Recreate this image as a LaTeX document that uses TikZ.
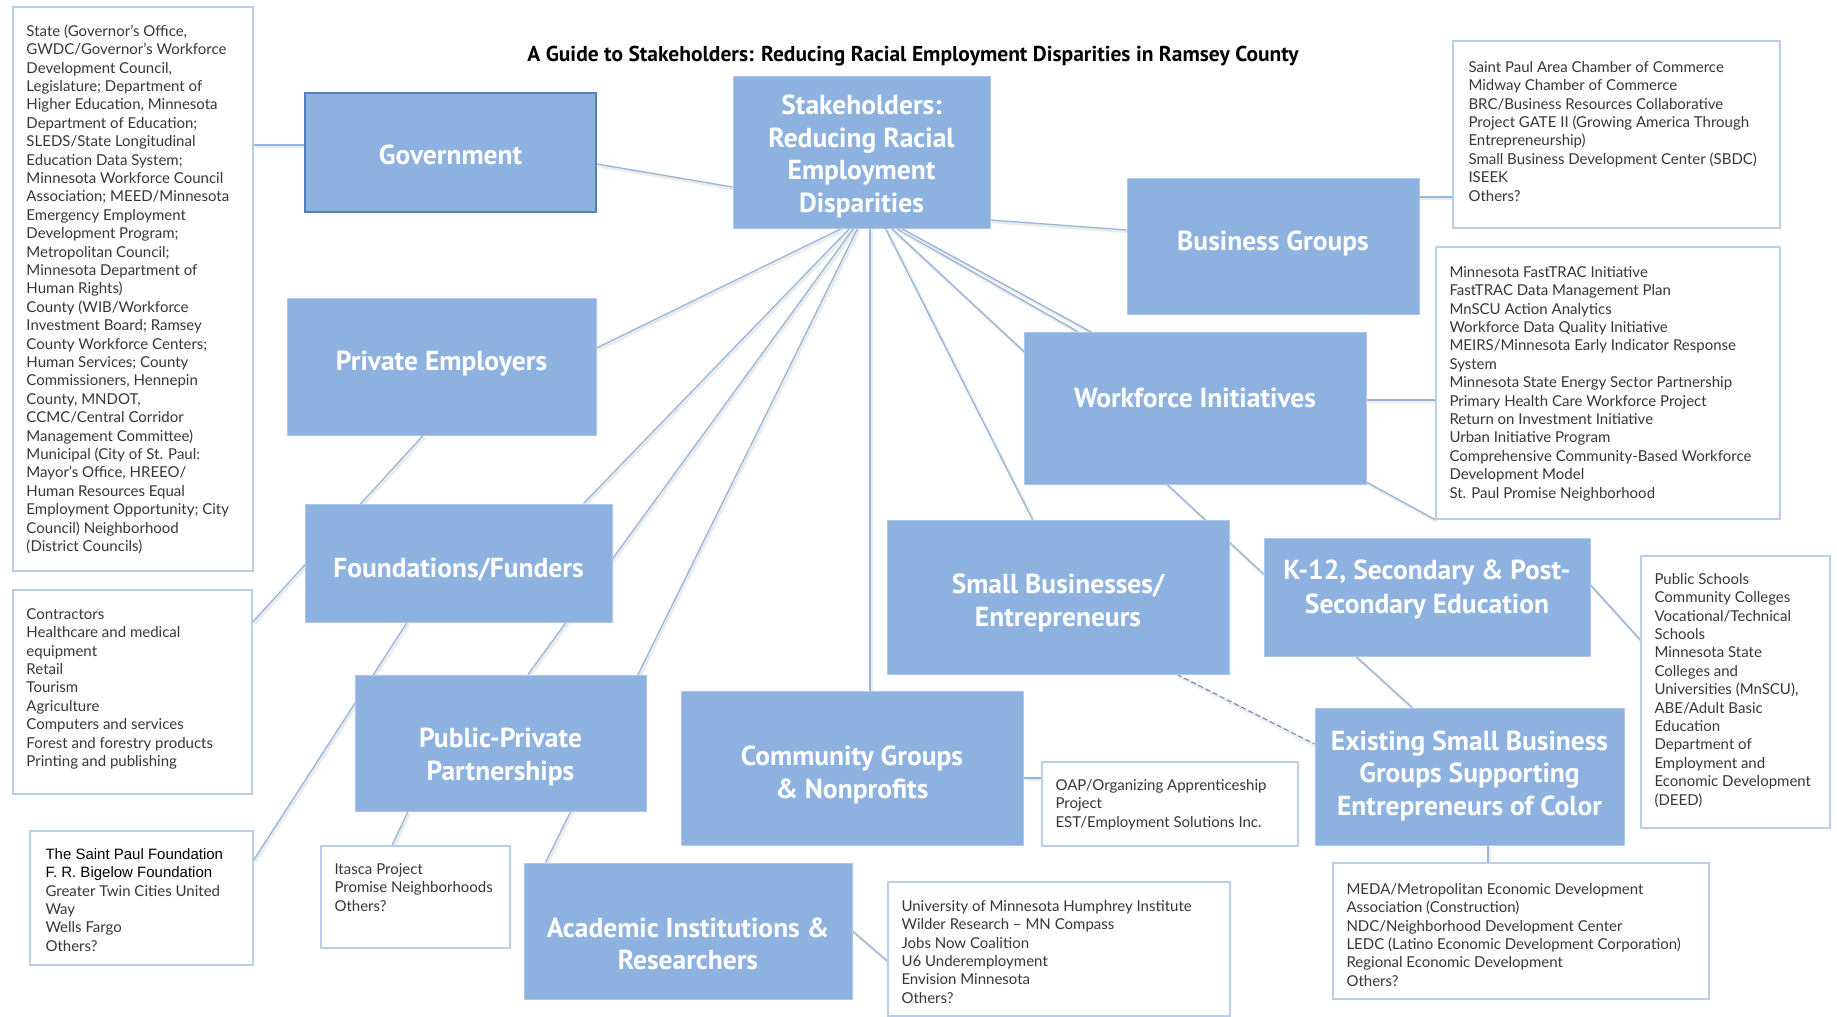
\documentclass[tikz,border=0pt]{standalone}
\usepackage{fontspec}
\setmainfont{Lato}
\newfontfamily\boxfont{PT Sans}
\newfontfamily\titlefont{PT Sans}
\newfontfamily\arialfont{Liberation Sans}
\usetikzlibrary{calc,backgrounds}

\definecolor{boxblue}{RGB}{142,178,224}
\definecolor{boxedge}{RGB}{172,199,234}
\definecolor{govedge}{RGB}{84,128,188}
\definecolor{listedge}{RGB}{186,206,234}
\definecolor{connblue}{RGB}{150,182,222}
\definecolor{dashblue}{RGB}{110,140,190}
\definecolor{txtgray}{RGB}{55,55,55}

\tikzset{
  bluebox/.style={draw=boxedge, line width=1pt, fill=boxblue, inner sep=0pt},
  govbox/.style={bluebox, draw=govedge, line width=1.6pt},
  boxlabel/.style={text=white, font=\boxfont\bfseries\fontsize{27.5}{32.5}\selectfont,
    align=center, inner sep=0pt},
  listbox/.style={draw=listedge, line width=1.4pt, fill=white, inner sep=0pt},
  listtxt/.style={anchor=north west, inner sep=0pt, align=left, text=txtgray,
    font=\fontsize{15}{18.4}\selectfont},
  conn/.style={draw=connblue, line width=1.3pt,
    preaction={draw=black!8, line width=3pt, transform canvas={shift={(1.5pt,-1.8pt)}}}},
}

\begin{document}
\begin{tikzpicture}[x=1pt,y=-1pt]
\useasboundingbox (0,0) rectangle (1837,1017);

% title
\node[font=\titlefont\bfseries\fontsize{21.5}{25}\selectfont] (title) at (913,56)
  {A Guide to Stakeholders: Reducing Racial Employment Disparities in Ramsey County};

% blue boxes
\node[govbox, minimum width=291pt, minimum height=119pt] (gov) at (450.5,152.5) {};
\node[bluebox, minimum width=257pt, minimum height=152pt] (hub) at (861.5,152) {};
\node[bluebox, minimum width=292pt, minimum height=136pt] (bg) at (1273,246) {};
\node[bluebox, minimum width=309pt, minimum height=137pt] (pe) at (441.5,366.5) {};
\node[bluebox, minimum width=342pt, minimum height=152pt] (wi) at (1195,408) {};
\node[bluebox, minimum width=307pt, minimum height=118pt] (ff) at (458.5,563) {};
\node[bluebox, minimum width=342pt, minimum height=154pt] (sb) at (1058,597) {};
\node[bluebox, minimum width=326pt, minimum height=118pt] (k12) at (1427,597) {};
\node[bluebox, minimum width=291pt, minimum height=136pt] (ppp) at (500.5,743) {};
\node[bluebox, minimum width=342pt, minimum height=154pt] (cg) at (852,768) {};
\node[bluebox, minimum width=309pt, minimum height=137pt] (es) at (1469.5,776.5) {};
\node[bluebox, minimum width=328pt, minimum height=136pt] (ac) at (688,931) {};

% box labels
\node[boxlabel] (govt) at ([yshift=-2.5pt]gov.center) {Government};
\node[boxlabel] (hubt) at ([yshift=-4.5pt]hub.center) {Stakeholders:\\Reducing Racial\\Employment\\Disparities};
\node[boxlabel] (bgt) at ([yshift=2.5pt]bg.center) {Business Groups};
\node[boxlabel] (pet) at ([yshift=2.5pt]pe.center) {Private Employers};
\node[boxlabel] (wit) at ([yshift=10.5pt]wi.center) {Workforce Initiatives};
\node[boxlabel] (fft) at ([yshift=-7pt]ff.center) {Foundations/Funders};
\node[boxlabel] (sbt) at ([yshift=-6pt]sb.center) {Small Businesses/\\Entrepreneurs};
\node[boxlabel, font=\boxfont\bfseries\fontsize{27.5}{33.5}\selectfont] (k12t) at ([yshift=7.5pt]k12.center) {K-12, Secondary \& Post-\\Secondary Education};
\node[boxlabel] (pppt) at ([yshift=-14pt]ppp.center) {Public-Private\\Partnerships};
\node[boxlabel] (cgt) at ([yshift=-7pt]cg.center) {Community Groups\\\& Nonprofits};
\node[boxlabel] (est) at ([yshift=1pt]es.center) {Existing Small Business\\Groups Supporting\\Entrepreneurs of Color};
\node[boxlabel] (act) at ([yshift=-13pt]ac.center) {Academic Institutions \&\\Researchers};

% list boxes
\node[listbox, minimum width=240pt, minimum height=564pt] (govl) at (133,289) {};
\node[listbox, minimum width=327pt, minimum height=187pt] (bgl) at (1616.5,134.5) {};
\node[listbox, minimum width=344pt, minimum height=272pt] (wil) at (1608,383) {};
\node[listbox, minimum width=239pt, minimum height=204pt] (pel) at (132.5,692) {};
\node[listbox, minimum width=223pt, minimum height=134pt] (ffl) at (141.5,898) {};
\node[listbox, minimum width=189pt, minimum height=102pt] (itl) at (415.5,897) {};
\node[listbox, minimum width=256pt, minimum height=84pt] (oapl) at (1170,804) {};
\node[listbox, minimum width=342pt, minimum height=134pt] (acl) at (1059,949) {};
\node[listbox, minimum width=189pt, minimum height=272pt] (k12l) at (1735.5,692) {};
\node[listbox, minimum width=376pt, minimum height=136pt] (esl) at (1521,931) {};

% list texts
\node[listtxt] (govlt) at ([xshift=14pt,yshift=-17pt]govl.north west) {\strut State (Governor's Office,\\GWDC/Governor's Workforce\\Development Council,\\Legislature; Department of\\Higher Education, Minnesota\\Department of Education;\\SLEDS/State Longitudinal\\Education Data System;\\Minnesota Workforce Council\\Association; MEED/Minnesota\\Emergency Employment\\Development Program;\\Metropolitan Council;\\Minnesota Department of\\Human Rights)\\County (WIB/Workforce\\Investment Board; Ramsey\\County Workforce Centers;\\Human Services; County\\Commissioners, Hennepin\\County, MNDOT,\\CCMC/Central Corridor\\Management Committee)\\Municipal (City of St. Paul:\\Mayor's Office, HREEO/\\Human Resources Equal\\Employment Opportunity; City\\Council) Neighborhood\\(District Councils)};
\node[listtxt] (bglt) at ([xshift=16pt,yshift=-19pt]bgl.north west) {\strut Saint Paul Area Chamber of Commerce\\Midway Chamber of Commerce\\BRC/Business Resources Collaborative\\Project GATE II (Growing America Through\\Entrepreneurship)\\Small Business Development Center (SBDC)\\ISEEK\\Others?};
\node[listtxt] (wilt) at ([xshift=14pt,yshift=-18pt]wil.north west) {\strut Minnesota FastTRAC Initiative\\FastTRAC Data Management Plan\\MnSCU Action Analytics\\Workforce Data Quality Initiative\\MEIRS/Minnesota Early Indicator Response\\System\\Minnesota State Energy Sector Partnership\\Primary Health Care Workforce Project\\Return on Investment Initiative\\Urban Initiative Program\\Comprehensive Community-Based Workforce\\Development Model\\St. Paul Promise Neighborhood};
\node[listtxt] (pelt) at ([xshift=14pt,yshift=-17pt]pel.north west) {\strut Contractors\\Healthcare and medical\\equipment\\Retail\\Tourism\\Agriculture\\Computers and services\\Forest and forestry products\\Printing and publishing};
\node[listtxt] (fflt) at ([xshift=16pt,yshift=-16pt]ffl.north west) {\strut{\arialfont\color{black}The Saint Paul Foundation}\\{\arialfont\color{black}F. R. Bigelow Foundation}\\Greater Twin Cities United\\Way\\Wells Fargo\\Others?};
\node[listtxt] (itlt) at ([xshift=14pt,yshift=-16pt]itl.north west) {\strut Itasca Project\\Promise Neighborhoods\\Others?};
\node[listtxt] (oaplt) at ([xshift=14pt,yshift=-16pt]oapl.north west) {\strut OAP/Organizing Apprenticeship\\Project\\EST/Employment Solutions Inc.};
\node[listtxt] (aclt) at ([xshift=14pt,yshift=-17pt]acl.north west) {\strut University of Minnesota Humphrey Institute\\Wilder Research -- MN Compass\\Jobs Now Coalition\\U6 Underemployment\\Envision Minnesota\\Others?};
\node[listtxt] (k12lt) at ([xshift=14pt,yshift=-16pt]k12l.north west) {\strut Public Schools\\Community Colleges\\Vocational/Technical\\Schools\\Minnesota State\\Colleges and\\Universities (MnSCU),\\ABE/Adult Basic\\Education\\Department of\\Employment and\\Economic Development\\(DEED)};
\node[listtxt] (eslt) at ([xshift=14pt,yshift=-19pt]esl.north west) {\strut MEDA/Metropolitan Economic Development\\Association (Construction)\\NDC/Neighborhood Development Center\\LEDC (Latino Economic Development Corporation)\\Regional Economic Development\\Others?};

% connectors
\begin{scope}[on background layer]
\fill[white] (0,0) rectangle (1837,1017);
\draw[conn] ([yshift=7.5pt]gov.west) -- ([yshift=7.5pt]gov.west -| govl.east);
\draw[conn] ([yshift=-11.5pt]gov.east) -- ([yshift=-35pt]hub.west);
\draw[conn] ([yshift=-68pt]hub.east) -- ([yshift=16pt]bg.west);
\draw[conn] ([yshift=49pt]bg.east) -- ([yshift=49pt]bg.east -| bgl.west);
\draw[conn] ([xshift=-20pt]hub.south) -- ([yshift=18.5pt]pe.east);
\draw[conn] ([xshift=-12pt]hub.south) -- ([xshift=-29pt]ff.north east);
\draw[conn] ([xshift=-8pt]hub.south) -- ([xshift=27.5pt]ppp.north);
\draw[conn] ([xshift=-4pt]hub.south) -- ([xshift=22pt]ac.north west);
\draw[conn] ([xshift=8.5pt]hub.south) -- ([xshift=8.5pt]hub.south |- cg.north);
\draw[conn] ([xshift=24pt]hub.south) -- ([xshift=146pt]sb.north west);
\draw[conn] ([xshift=30pt]hub.south) -- ([yshift=23pt]k12.west);
\draw[conn] ([xshift=35pt]hub.south) -- ([xshift=54pt]wi.north west);
\draw[conn] ([xshift=40pt]hub.south) -- (wil.south west);
\draw[conn] ([yshift=8pt]wi.east) -- ([yshift=8pt]wi.east -| wil.west);
\draw[conn] ([xshift=-18.5pt]pe.south) -- ([yshift=70pt]pel.east);
\draw[conn] ([xshift=-51.5pt]ff.south) -- ([yshift=38pt]ffl.east);
\draw[conn] ([xshift=-92.5pt]ppp.south) -- ([xshift=-23.5pt]itl.north);
\draw[conn] ([yshift=12pt]k12.east) -- ([yshift=52pt]k12l.west);
\draw[conn] ([xshift=-71pt]k12.south) -- ([xshift=-57.5pt]es.north);
\draw[conn, draw=dashblue, line width=1.1pt, dash pattern=on 5pt off 3pt] ([xshift=119pt]sb.south) -- ([yshift=32.5pt]es.west);
\draw[conn] ([xshift=18.5pt]es.south) -- ([xshift=18.5pt]es.south |- esl.north);
\draw[conn] ([yshift=-10pt]cg.east) -- ([yshift=-10pt]cg.east -| oapl.west);
\draw[conn] (ac.east) -- ([yshift=-12pt]acl.west);
\end{scope}
\end{tikzpicture}
\end{document}
